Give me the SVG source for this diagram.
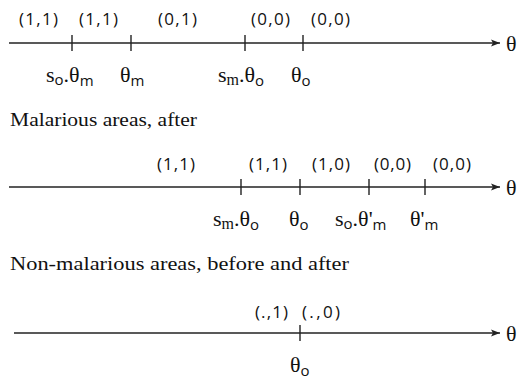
<svg xmlns="http://www.w3.org/2000/svg" width="524" height="380" viewBox="0 0 524 380">
<defs>
<style>
.ax{stroke:#222;stroke-width:1.6;fill:none}
.tk{stroke:#222;stroke-width:1.4}
.st{font-family:"Open Sans","Liberation Sans",sans-serif;font-size:17px;fill:#111}
.mt{font-family:"Liberation Serif","DejaVu Serif",serif;font-size:22px;fill:#111}
.sb{font-family:"Open Sans","Liberation Sans",sans-serif;font-size:15px}
.sbs{font-family:"Liberation Serif",serif;font-size:16px}
.cap{font-family:"Liberation Serif","DejaVu Serif",serif;font-size:19px;fill:#111}
</style>
<marker id="ah" markerWidth="10" markerHeight="8" refX="9" refY="4" orient="auto" markerUnits="userSpaceOnUse">
<path d="M0,0.5 L9,4 L0,7.5 L2,4 Z" fill="#222"/>
</marker>
</defs>

<g id="connectors">
<line class="ax" x1="9" y1="43" x2="500" y2="43" marker-end="url(#ah)"/>
<line class="ax" x1="9" y1="187" x2="500" y2="187" marker-end="url(#ah)"/>
<line class="ax" x1="14" y1="333" x2="500" y2="333" marker-end="url(#ah)"/>
</g>

<g id="axis1">
<line class="tk" x1="72" y1="35" x2="72" y2="51"/>
<line class="tk" x1="131" y1="35" x2="131" y2="51"/>
<line class="tk" x1="245" y1="35" x2="245" y2="51"/>
<line class="tk" x1="303" y1="35" x2="303" y2="51"/>
<text class="mt" x="506" y="51">θ</text>
<text class="st" x="19" y="25" textLength="39" lengthAdjust="spacing">(1,1)</text>
<text class="st" x="79" y="25" textLength="39" lengthAdjust="spacing">(1,1)</text>
<text class="st" x="158" y="25" textLength="39" lengthAdjust="spacing">(0,1)</text>
<text class="st" x="251" y="25" textLength="39" lengthAdjust="spacing">(0,0)</text>
<text class="st" x="311" y="25" textLength="39" lengthAdjust="spacing">(0,0)</text>
<text class="mt" x="46" y="82">s<tspan class="sb" dy="3">o</tspan><tspan dy="-3">.θ</tspan><tspan class="sb" dy="4">m</tspan></text>
<text class="mt" x="120" y="82">θ<tspan class="sb" dy="4">m</tspan></text>
<text class="mt" x="218" y="82">s<tspan class="sbs" dy="3">m</tspan><tspan dy="-3">.θ</tspan><tspan class="sb" dy="4">o</tspan></text>
<text class="mt" x="291" y="82">θ<tspan class="sb" dy="4">o</tspan></text>
</g>

<g id="caption1">
<text class="cap" x="10" y="126" textLength="187" lengthAdjust="spacingAndGlyphs">Malarious areas, after</text>
</g>

<g id="axis2">
<line class="tk" x1="241" y1="179" x2="241" y2="195"/>
<line class="tk" x1="300" y1="179" x2="300" y2="195"/>
<line class="tk" x1="369" y1="179" x2="369" y2="195"/>
<line class="tk" x1="425" y1="179" x2="425" y2="195"/>
<text class="mt" x="506" y="195">θ</text>
<text class="st" x="157" y="170" textLength="38" lengthAdjust="spacing">(1,1)</text>
<text class="st" x="249" y="170" textLength="38" lengthAdjust="spacing">(1,1)</text>
<text class="st" x="312" y="170" textLength="38" lengthAdjust="spacing">(1,0)</text>
<text class="st" x="374" y="170" textLength="37" lengthAdjust="spacing">(0,0)</text>
<text class="st" x="433" y="170" textLength="38" lengthAdjust="spacing">(0,0)</text>
<text class="mt" x="213" y="226">s<tspan class="sbs" dy="3">m</tspan><tspan dy="-3">.θ</tspan><tspan class="sb" dy="4">o</tspan></text>
<text class="mt" x="289" y="226">θ<tspan class="sb" dy="4">o</tspan></text>
<text class="mt" x="335" y="226">s<tspan class="sb" dy="3">o</tspan><tspan dy="-3">.θ'</tspan><tspan class="sb" dy="4">m</tspan></text>
<text class="mt" x="410" y="226">θ'<tspan class="sb" dy="4">m</tspan></text>
</g>

<g id="caption2">
<text class="cap" x="10" y="270" textLength="339" lengthAdjust="spacingAndGlyphs">Non-malarious areas, before and after</text>
</g>

<g id="axis3">
<line class="tk" x1="300" y1="325" x2="300" y2="341"/>
<text class="mt" x="506" y="341">θ</text>
<text class="st" x="255" y="318" textLength="33" lengthAdjust="spacing">(.,1)</text>
<text class="st" x="302" y="318" textLength="38" lengthAdjust="spacing">(.,0)</text>
<text class="mt" x="290" y="372">θ<tspan class="sb" dy="4">o</tspan></text>
</g>
</svg>
